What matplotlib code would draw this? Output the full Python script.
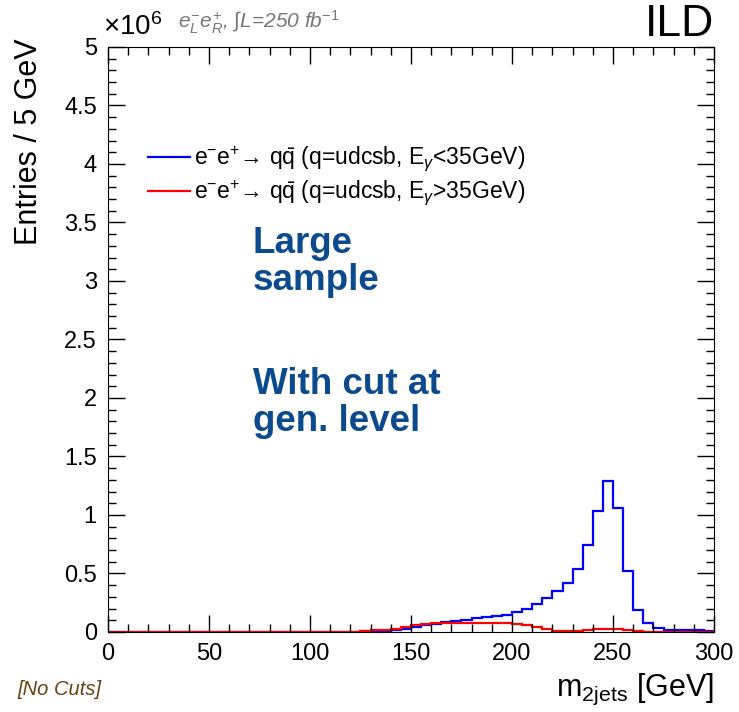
import numpy as np
import matplotlib
matplotlib.use('Agg')
import matplotlib.pyplot as plt
from matplotlib.ticker import MultipleLocator, FuncFormatter

plt.rcParams['font.family'] = ['Liberation Sans', 'DejaVu Sans']
plt.rcParams['mathtext.fontset'] = 'custom'
plt.rcParams['mathtext.rm'] = 'Liberation Sans'
plt.rcParams['mathtext.it'] = 'Liberation Sans:italic'
plt.rcParams['mathtext.bf'] = 'Liberation Sans:bold'

# 5 GeV bins from 0 to 300, entries in units of 1e6
bin_edges = np.arange(0, 305, 5)

# e-e+ -> qqbar, E_gamma < 35 GeV
blue_vals = [0.0] * 22 + [
    0.001, 0.002, 0.003,                      # 110-125
    0.006, 0.009, 0.009, 0.017, 0.028,        # 125-150
    0.046, 0.057, 0.071, 0.085, 0.094,        # 150-175
    0.105, 0.117, 0.125, 0.134, 0.148,        # 175-200
    0.168, 0.20, 0.24, 0.29, 0.35,            # 200-225
    0.42, 0.54, 0.74, 1.03, 1.29,             # 225-250
    1.06, 0.52, 0.19, 0.074, 0.037,           # 250-275
    0.02, 0.014, 0.014, 0.013, 0.006,         # 275-300
]

# e-e+ -> qqbar, E_gamma > 35 GeV
red_vals = [0.0] * 22 + [
    0.003, 0.003, 0.003,                      # 110-125
    0.006, 0.017, 0.017, 0.026, 0.046,        # 125-150
    0.060, 0.066, 0.074, 0.077, 0.080,        # 150-175
    0.080, 0.080, 0.080, 0.080, 0.074,        # 175-200
    0.066, 0.060, 0.046, 0.026, 0.011,        # 200-225
    0.011, 0.011, 0.017, 0.023, 0.028,        # 225-250
    0.028, 0.020, 0.008, 0.003, 0.003,        # 250-275
    0.003, 0.003, 0.003, 0.003, 0.003,        # 275-300
]

blue_vals = np.array(blue_vals) * 1e6
red_vals = np.array(red_vals) * 1e6

fig = plt.figure(figsize=(7.39, 7.12), dpi=100)
ax = fig.add_axes([0.1461, 0.1124, 0.8201, 0.8216])

ax.stairs(blue_vals, bin_edges, color='#0000ff', lw=1.6,
          label=r'e$^{-}$e$^{+}$→ q$\bar{\mathrm{q}}$ (q=udcsb, E$_{\gamma}$<35GeV)')
ax.stairs(red_vals, bin_edges, color='#ff0000', lw=1.6,
          label=r'e$^{-}$e$^{+}$→ q$\bar{\mathrm{q}}$ (q=udcsb, E$_{\gamma}$>35GeV)')

ax.set_xlim(0, 300)
ax.set_ylim(0, 5e6)
ax.xaxis.set_major_locator(MultipleLocator(50))
ax.xaxis.set_minor_locator(MultipleLocator(10))
ax.yaxis.set_major_locator(MultipleLocator(0.5e6))
ax.yaxis.set_minor_locator(MultipleLocator(0.1e6))
ax.yaxis.set_major_formatter(FuncFormatter(lambda v, p: '%g' % (v / 1e6)))
ax.tick_params(which='both', direction='in', top=True, right=True, width=1)
ax.tick_params(which='major', length=12, labelsize=17, pad=8)
ax.tick_params(which='minor', length=6)

ax.set_xlabel(r'm$_{\mathrm{2jets}}$ [GeV]', fontsize=22, loc='right')
ax.xaxis.set_label_coords(1.0, -0.068)
ax.set_ylabel('Entries / 5 GeV', fontsize=22, loc='top')
ax.yaxis.set_label_coords(-0.105, 1.015)

ax.legend(loc='upper left', bbox_to_anchor=(0.066, 0.8325), frameon=False,
          fontsize=16.5, handlelength=1.85, handletextpad=0.15, labelspacing=0.2,
          borderpad=0, borderaxespad=0)

ax.text(-0.008, 1.01, r'×10$^{6}$', transform=ax.transAxes, fontsize=20,
        ha='left', va='bottom')
ax.text(0.115, 1.018, r'$e^{-}_{L}e^{+}_{R}$, ∫L=250 fb$^{-1}$', transform=ax.transAxes,
        fontsize=15, style='italic', color='#777777', ha='left', va='bottom')
ax.text(1.0, 1.003, 'ILD', transform=ax.transAxes, fontsize=32, ha='right', va='bottom')

txt_col = '#0b4a8c'
ax.text(0.239, 0.585, 'Large\nsample', transform=ax.transAxes, fontsize=26.5,
        fontweight='bold', color=txt_col, ha='left', va='baseline', linespacing=1.05)
ax.text(0.239, 0.344, 'With cut at\ngen. level', transform=ax.transAxes, fontsize=26.5,
        fontweight='bold', color=txt_col, ha='left', va='baseline', linespacing=1.05)

fig.text(0.024, 0.018, '[No Cuts]', fontsize=14.5, style='italic', color='#6b4010',
         ha='left', va='bottom')

fig.savefig('out.png', dpi=100)
